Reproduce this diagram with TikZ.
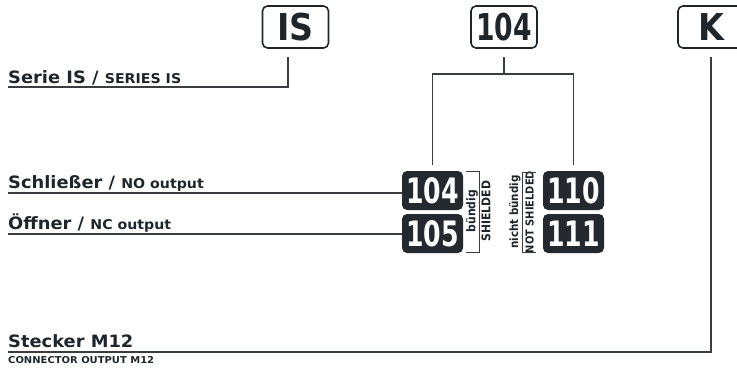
\documentclass[tikz,border=0pt]{standalone}
\usepackage{fontspec}
\setmainfont{DejaVu Sans}
\newfontfamily\lblfont{DejaVu Sans}[FakeStretch=1.05]
\newfontfamily\boxfont{DejaVu Sans Condensed}
\newfontfamily\numfont{DejaVu Sans Condensed}[FakeStretch=0.8]
\newfontfamily\rotfont{DejaVu Sans Condensed}
\usetikzlibrary{positioning,calc}
\definecolor{ink}{HTML}{1F262B}
\definecolor{tile}{HTML}{23292E}
\definecolor{wire}{HTML}{3A3D40}

\begin{document}
\begin{tikzpicture}[x=1pt,y=-1pt,
  topbox/.style={draw=ink, line width=1.6pt, rounded corners=5pt, minimum width=66pt, minimum height=42pt, inner sep=0pt, text=ink, font=\boxfont\bfseries\fontsize{37}{37}\selectfont},
  tilebox/.style={fill=tile, rounded corners=5pt, minimum width=61pt, minimum height=39pt, inner sep=0pt, text=white, font=\numfont\bfseries\fontsize{35}{35}\selectfont},
  biglbl/.style={anchor=base west, inner sep=0pt, text=ink, font=\lblfont\bfseries\fontsize{17}{17}\selectfont},
  rotlbl/.style={rotate=90, inner sep=0pt, text=ink, font=\rotfont\bfseries\fontsize{12}{12}\selectfont},
  conn/.style={draw=wire, line width=1.2pt}]
  \useasboundingbox (0,0) rectangle (737,368);
  \clip (0,0) rectangle (737,368);

  % code boxes on top
  \node (topIS) [topbox] at (295.5,27) {IS};
  \node (top104) [topbox, font=\numfont\bfseries\fontsize{37}{37}\selectfont] at (504,27) {104};
  \node (topK) [topbox] at (711,27) {K};

  % dark tiles
  \node (d104) [tilebox] at (432.5,190.5) {104};
  \node (d105) [tilebox] at (432.5,233.5) {105};
  \node (d110) [tilebox] at (573.5,190.5) {110};
  \node (d111) [tilebox] at (573.5,233.5) {111};

  % labels on the left
  \node (serie) [biglbl] at (8,83) {Serie IS / {\fontsize{13.5}{13.5}\selectfont SERIES IS}};
  \node (schl) [biglbl] at (8,188) {Schließer / {\fontsize{13.5}{13.5}\selectfont NO output}};
  \node (oeff) [biglbl] at (8,229) {Öffner / {\fontsize{13.5}{13.5}\selectfont NC output}};
  \node (steck) [biglbl] at (8,347) {Stecker M12};
  \node (conout) [biglbl, font=\lblfont\bfseries\fontsize{9.5}{9.5}\selectfont] at (8,363) {CONNECTOR OUTPUT M12};

  \coordinate (serieL) at (8,87);
  \coordinate (schlL) at (8,193);
  \coordinate (oeffL) at (8,234);
  \coordinate (steckL) at (8,352);
  \coordinate (fork) at (504,74);

  % rotated notes
  \node (bnd) [rotlbl] at (472,211) {bündig};
  \node (shd) [rotlbl] at (486,211) {SHIELDED};
  \node (nbnd) [rotlbl, font=\rotfont\bfseries\fontsize{11.5}{11.5}\selectfont] at (515,212) {nicht bündig};
  \node (nshd) [rotlbl, font=\rotfont\bfseries\fontsize{11}{11}\selectfont] at (529.5,212) {NOT SHIELDED};
  \draw [conn, line width=1pt] (466,171) -- (479,171) -- (479,252) -- (466,252);
  \draw [conn, line width=1pt] (536,172) -- (522,172) -- (522,252) -- (536,252);

  % connectors
  \draw [conn] (serieL) -| ([xshift=-7.5pt,yshift=-8pt]topIS.south);
  \draw [conn] ([yshift=-8pt]top104.south) -- (fork);
  \draw [conn] ([yshift=6pt]d104.north) |- (fork) -| ([yshift=6pt]d110.north);
  \draw [conn] (schlL) -- (schlL -| d104.west);
  \draw [conn] (oeffL) -- (oeffL -| d105.west);
  \draw [conn] (steckL) -| ([yshift=-8pt]topK.south);
\end{tikzpicture}
\end{document}
